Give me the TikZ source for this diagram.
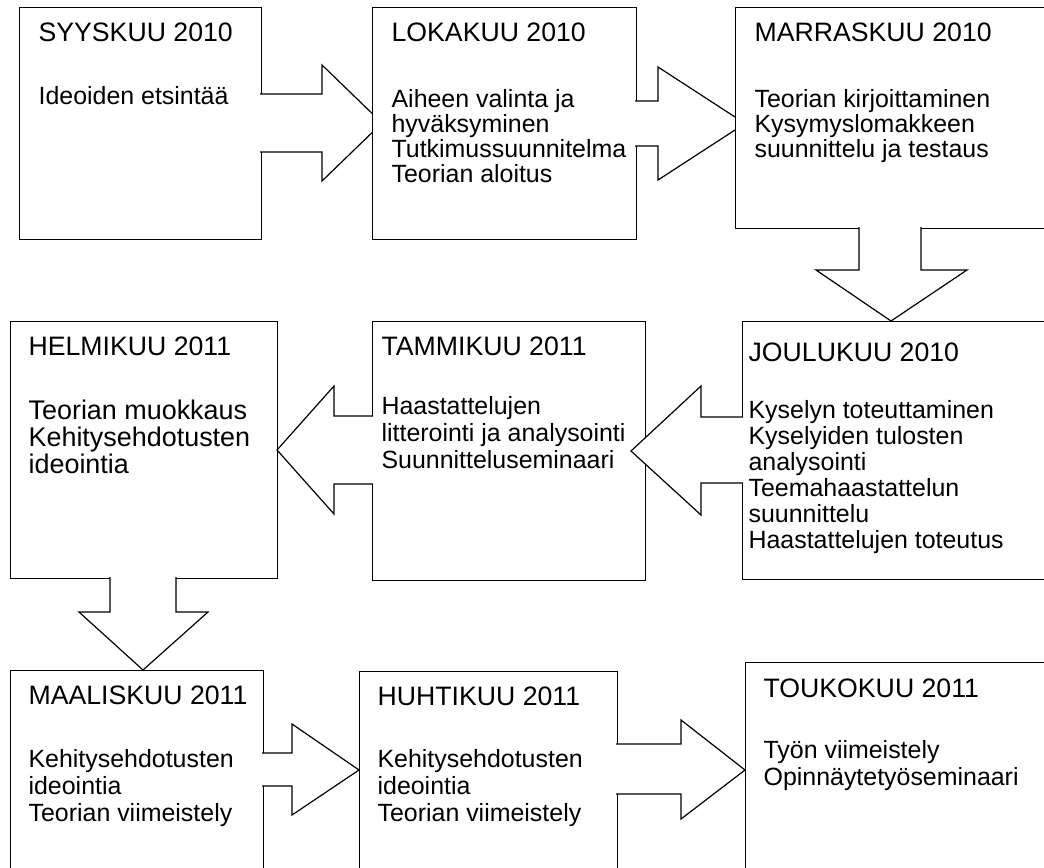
\documentclass[tikz,border=0pt]{standalone}
\usepackage{fontspec}
\setmainfont{Liberation Sans}

\begin{document}
\begin{tikzpicture}[x=0.75pt, y=-0.75pt, line width=0.9pt,
  box/.style 2 args={draw, fill=white, rectangle, inner sep=0pt, anchor=north west,
    minimum width=#1*0.75pt, minimum height=#2*0.75pt},
  month/.style={anchor=base west, inner sep=0pt, font=\fontsize{20}{24}\selectfont},
  task/.style={anchor=base west, inner sep=0pt, align=left, font=\fontsize{18.7}{18.75}\selectfont},
  bigtask/.style={task, font=\fontsize{18.7}{20.25}\selectfont},
  blockarrow/.style={draw, fill=white, line join=miter}]

% Page frame (bottom row runs off the page)
\clip (0,0) rectangle (1044,867);

% Row 1 (task nodes sit on the baseline of their last line)
\node[box={242}{232}] (syys) at (19,7) {};
\node[month] (syys-m) at (38,42) {SYYSKUU 2010};
\node[task] (syys-t) at (38,104) {Ideoiden etsintää};

\draw[blockarrow] (260,94) -- (322,94) -- (322,65) -- (382,123) -- (322,181) -- (322,152) -- (260,152);

\node[box={264}{232}] (loka) at (372,7) {};
\node[month] (loka-m) at (391,42) {LOKAKUU 2010};
\node[task] (loka-t) at (391,182) {Aiheen valinta ja\\hyväksyminen\\Tutkimussuunnitelma\\Teorian aloitus};

\draw[blockarrow] (635,101) -- (658,101) -- (658,67) -- (745,123.5) -- (658,180) -- (658,146) -- (635,146);

\node[box={320}{221}] (marras) at (735,7) {};
\node[month] (marras-m) at (754,42) {MARRASKUU 2010};
\node[task] (marras-t) at (754,157) {Teorian kirjoittaminen\\Kysymyslomakkeen\\suunnittelu ja testaus};

\draw[blockarrow] (859,227) -- (859,270) -- (816,270) -- (891,321) -- (967,270) -- (921,270) -- (921,227);

% Row 2
\node[box={320}{258}] (joulu) at (742,321) {};
\node[month] (joulu-m) at (748,361) {JOULUKUU 2010};
\node[task, font=\fontsize{18.7}{19.4}\selectfont] (joulu-t) at (748,548) {Kyselyn toteuttaminen\\Kyselyiden tulosten\\analysointi\\Teemahaastattelun\\suunnittelu\\Haastattelujen toteutus};

\node[box={273}{259}] (tammi) at (372,321) {};
\node[month] (tammi-m) at (381,355) {TAMMIKUU 2011};
\node[bigtask] (tammi-t) at (381,468) {Haastattelujen\\litterointi ja analysointi\\Suunnitteluseminaari};

\draw[blockarrow] (743,417) -- (701,417) -- (701,386) -- (631,451) -- (701,515) -- (701,483) -- (743,483);

\node[box={267}{257}] (helmi) at (10,321) {};
\node[month] (helmi-m) at (28,355) {HELMIKUU 2011};
\node[task, font=\fontsize{20.2}{20.25}\selectfont] (helmi-t) at (28,473) {Teorian muokkaus\\Kehitysehdotusten\\ideointia};

\draw[blockarrow] (373,416) -- (334,416) -- (334,386) -- (277,450) -- (334,514) -- (334,484) -- (373,484);

\draw[blockarrow] (110,577) -- (110,612) -- (79,612) -- (143,670) -- (208,612) -- (176,612) -- (176,577);

% Row 3
\node[box={253}{240}] (maalis) at (10,670) {};
\node[month] (maalis-m) at (28,704) {MAALISKUU 2011};
\node[bigtask] (maalis-t) at (28,821) {Kehitysehdotusten\\ideointia\\Teorian viimeistely};

\draw[blockarrow] (262,753) -- (292,753) -- (292,724) -- (359,770) -- (292,815) -- (292,786) -- (262,786);

\node[box={258}{240}] (huhti) at (359,671) {};
\node[month] (huhti-m) at (377,705) {HUHTIKUU 2011};
\node[bigtask] (huhti-t) at (377,821) {Kehitysehdotusten\\ideointia\\Teorian viimeistely};

\draw[blockarrow] (616,744) -- (681,744) -- (681,720) -- (745,770) -- (681,819) -- (681,794) -- (616,794);

\node[box={320}{250}] (touko) at (745,662) {};
\node[month] (touko-m) at (763,697) {TOUKOKUU 2011};
\node[bigtask] (touko-t) at (763,785) {Työn viimeistely\\Opinnäytetyöseminaari};

\end{tikzpicture}
\end{document}
